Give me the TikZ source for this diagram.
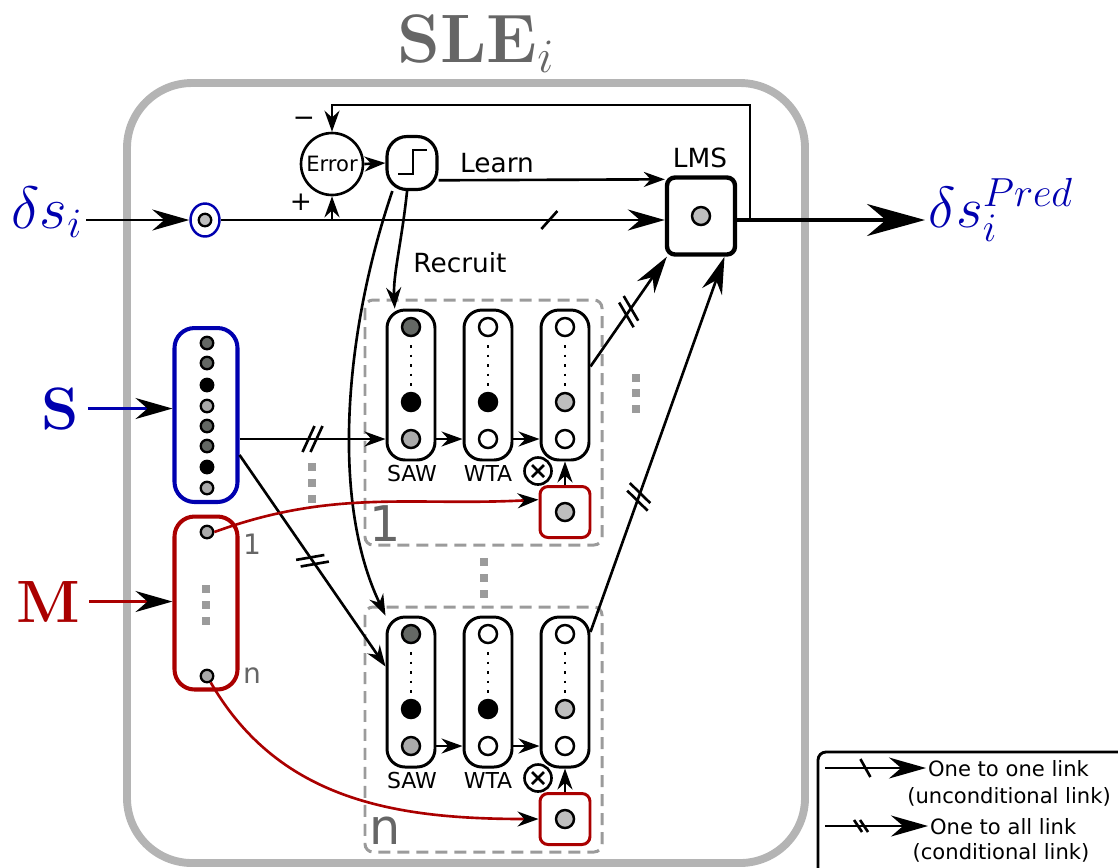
\RequirePackage{fix-cm}
\documentclass[tikz,border=0pt]{standalone}
\usepackage{fontspec}
\setsansfont{DejaVu Sans}
\usetikzlibrary{arrows.meta,shapes.geometric,decorations.markings}

\definecolor{sleblue}{RGB}{0,0,175}
\definecolor{slered}{RGB}{170,0,0}
\definecolor{titlegray}{RGB}{102,102,102}
\definecolor{framegray}{RGB}{180,180,180}
\definecolor{dashgray}{RGB}{155,155,155}
\definecolor{dotdark}{RGB}{100,104,100}
\definecolor{dotlight}{RGB}{170,170,170}
\definecolor{dotpale}{RGB}{190,190,190}

\begin{document}
\begin{tikzpicture}[x=0.02cm,y=-0.02cm,
  conn/.style={line width=1.5pt},
  sarrow/.style={-{Stealth[length=0.42cm,width=0.3cm,color=black]}},
  marrow/.style={-{Stealth[length=0.74cm,width=0.42cm,color=black]}},
  barrow/.style={-{Stealth[length=1.16cm,width=0.64cm,color=black]}},
  onelink/.style={postaction={decorate,decoration={markings,mark=at position #1 with {\draw[conn,-] (-8,9) -- (8,-9);}}}},
  alllink/.style={postaction={decorate,decoration={markings,mark=at position #1 with {\draw[conn,-] (-10,13) -- (2,-13); \draw[conn,-] (-2,13) -- (10,-13);}}}},
  legone/.style={postaction={decorate,decoration={markings,mark=at position #1 with {\draw[conn,-] (-5,-9) -- (5,9);}}}},
  legall/.style={postaction={decorate,decoration={markings,mark=at position #1 with {\draw[conn,-] (-7,-6) -- (1,6); \draw[conn,-] (-1,-6) -- (7,6);}}}},
  txt/.style={font=\sffamily\fontsize{15}{18}\selectfont, inner sep=1pt},
  small/.style={font=\sffamily\fontsize{12.5}{15}\selectfont, inner sep=1pt},
  legtxt/.style={font=\sffamily\fontsize{12}{14}\selectfont, inner sep=1pt},
  modlabel/.style={font=\sffamily\fontsize{28}{30}\selectfont, text=titlegray, inner sep=0pt},
  unitcol/.style={draw, line width=1.7pt, fill=white, rounded corners=0.36cm, minimum width=0.96cm, minimum height=3cm},
  unitdot/.style={circle, draw, line width=1.4pt, minimum size=0.36cm, inner sep=0pt},
  celldot/.style={circle, draw, line width=1.3pt, minimum size=0.25cm, inner sep=0pt},
  gatebox/.style={draw=slered, line width=1.7pt, rounded corners=0.16cm, minimum width=1cm, minimum height=1.02cm},
  modbox/.style={draw=dashgray, line width=1.7pt, dash pattern=on 0.24cm off 0.14cm, rounded corners=0.16cm},
  chain/.style={line width=1.6pt, dash pattern=on 0.05cm off 0.14cm}
]
\useasboundingbox (0,0) rectangle (1118,867);

\draw[framegray, line width=4.5pt, rounded corners=1.3cm] (127,83) rectangle (805,863);
\node[font=\bfseries\fontsize{39}{42}\selectfont, text=titlegray, anchor=base] (title) at (476,62) {SLE$_i$};

\foreach \m/\dy in {1/0,n/307}{
  \draw[modbox] (365,300+\dy) rectangle (602,545+\dy);
  \node[modlabel] (mlab\m) at (385,524+\dy) {\m};
  \node[unitcol] (saw\m) at (411,385+\dy) {};
  \node[unitcol] (wta\m) at (488,385+\dy) {};
  \node[unitcol] (out\m) at (565,385+\dy) {};
  \node[unitdot, fill=dotdark] (sawa\m) at (411,327+\dy) {};
  \node[unitdot, fill=black] (sawb\m) at (411,402+\dy) {};
  \node[unitdot, fill=dotlight] (sawc\m) at (411,439+\dy) {};
  \node[unitdot, fill=white] (wtaa\m) at (488,327+\dy) {};
  \node[unitdot, fill=black] (wtab\m) at (488,402+\dy) {};
  \node[unitdot, fill=white] (wtac\m) at (488,439+\dy) {};
  \node[unitdot, fill=white] (outa\m) at (565,327+\dy) {};
  \node[unitdot, fill=dotpale] (outb\m) at (565,402+\dy) {};
  \node[unitdot, fill=white] (outc\m) at (565,439+\dy) {};
  \foreach \x in {411,488,565}
    \draw[chain] (\x,345+\dy) -- (\x,386+\dy);
  \draw[conn,sarrow] (saw\m.east |- sawc\m) -- (wta\m.west |- sawc\m);
  \draw[conn,sarrow] (wta\m.east |- wtac\m) -- (out\m.west |- wtac\m);
  \node[small] (sawl\m) at (412,473+\dy) {SAW};
  \node[small] (wtal\m) at (488,473+\dy) {WTA};
  \node[circle, draw, conn, minimum size=0.54cm, inner sep=0pt] (ox\m) at (538,471+\dy) {};
  \draw[conn] ([shift={(-6,-6)}]ox\m.center) -- ([shift={(6,6)}]ox\m.center);
  \draw[conn] ([shift={(-6,6)}]ox\m.center) -- ([shift={(6,-6)}]ox\m.center);
  \node[gatebox] (g\m) at (565,512+\dy) {};
  \node[unitdot, fill=dotpale] (gd\m) at (g\m) {};
  \draw[conn,sarrow] (g\m.north) -- (out\m.south);
}

\foreach \x/\y in {312/467,312/483,312/499,206/589,206/605,206/621,484/562,484/578,484/594,636/378,636/393,636/409}
  \fill[dashgray] (\x-4,\y-4) rectangle (\x+4,\y+4);

\node[draw=sleblue, line width=2.3pt, rounded corners=0.4cm, minimum width=1.26cm, minimum height=3.48cm] (s) at (206,415) {};
\foreach \y/\col [count=\k] in {343/dotdark,363/dotdark,385/black,406/dotlight,426/dotdark,446/dotdark,467/black,488/dotlight}
  \node[celldot, fill=\col] (s\k) at (207,\y) {};
\node[draw=slered, line width=2.3pt, rounded corners=0.4cm, minimum width=1.26cm, minimum height=3.46cm] (m) at (206,603) {};
\node[celldot, fill=dotlight] (m1) at (207,532) {};
\node[celldot, fill=dotlight] (mn) at (207,676) {};
\node[font=\sffamily\fontsize{16}{18}\selectfont, text=titlegray] (m1l) at (252,544) {1};
\node[font=\sffamily\fontsize{16}{18}\selectfont, text=titlegray] (mnl) at (252,676) {n};

\node[text=sleblue, font=\bfseries\fontsize{34}{36}\selectfont, anchor=base, inner sep=5pt] (slab) at (60,429) {S};
\node[text=slered, font=\bfseries\fontsize{34}{36}\selectfont, anchor=base, inner sep=5pt] (mlab) at (48,622) {M};
\draw[sleblue,conn,marrow] (slab.east) -- (s.west |- slab.east);
\draw[slered,conn,marrow] (mlab.east) -- (m.west |- mlab.east);

\node[text=sleblue, font=\fontsize{34}{36}\selectfont, inner sep=2pt] (dsin) at (47,212) {$\delta s_i$};
\node[ellipse, draw=sleblue, line width=1.4pt, minimum width=0.58cm, minimum height=0.66cm, inner sep=0pt] (in) at (205,220) {};
\node[celldot, fill=dotpale] (ind) at (in) {};

\node[circle, draw, conn, minimum size=1.24cm, inner sep=0pt, font=\sffamily\fontsize{12}{14}\selectfont] (err) at (332,164) {Error};
\node[txt] (plus) at (301,202) {+};
\node[txt] (minus) at (304,122) {−};
\node[draw, line width=1.8pt, rounded corners=0.4cm, minimum width=1cm, minimum height=1.06cm] (step) at (412,163) {};
\draw[line width=1.6pt] ([shift={(-14,11)}]step.center) -- ++(15,0) -- ++(0,-24) -- ++(14,0);
\node[draw, line width=2.5pt, rounded corners=0.16cm, minimum width=1.36cm, minimum height=1.54cm] (lms) at (701,216) {};
\node[unitdot, fill=dotpale] (lmsd) at (lms) {};
\node[txt] (lmsl) at (700,158) {LMS};
\node[txt] (learn) at (497,163) {Learn};
\node[txt] (recruit) at (460,263) {Recruit};
\node[text=sleblue, font=\fontsize{33}{36}\selectfont, anchor=west, inner sep=2pt] (dsout) at (925,210) {$\delta s_i^{Pred}$};

\draw[conn,marrow] (dsin.east |- in) -- (in.west);
\draw[conn,marrow,onelink=0.74] (in.east) -- (lms.west |- in);
\draw[conn,sarrow] (err.south |- in) -- (err.south);
\draw[conn,sarrow] (err.east) -- (step.west);
\draw[conn,sarrow] (step.-33) -- ([yshift=-0.08cm]lms.north west);
\coordinate (fb) at (750,220);
\draw[conn,sarrow] (fb) -- ++(0,-115) -| (err.north);
\draw[line width=1.9pt,barrow] (lms.east |- in) -- (dsout.west |- in);

\draw[conn,sarrow] (step.-100) .. controls (402,240) and (393,275) .. (saw1.102);
\draw[conn,sarrow] (step.-125) .. controls (345,330) and (330,500) .. (sawn.north west);

\draw[conn,sarrow,alllink=0.5] (s.east |- sawc1) -- (saw1.west |- sawc1);
\draw[conn,sarrow,alllink=0.5] (s.-50) -- (sawn.135);
\draw[slered,conn,sarrow] (m1.east) to[out=20,in=183] (g1.155);
\draw[slered,conn,sarrow] (mn.-60) to[out=-60,in=180] (gn.west);
\draw[conn,marrow,alllink=0.5] (out1.36) -- (lms.-130);
\draw[conn,marrow,alllink=0.36] (outn.67) -- (lms.-60);

\draw[line width=1.6pt, rounded corners=0.16cm] (1130,752) -- (818,752) -- (818,880);
\node[legtxt, anchor=west] (one) at (926,769) {One to one link};
\node[legtxt] (onesub) at (1009,797) {(unconditional link)};
\node[legtxt, anchor=west] (all) at (928,827) {One to all link};
\node[legtxt] (allsub) at (1001,853) {(conditional link)};
\coordinate (onestart) at (825,768);
\coordinate (allstart) at (825,826);
\draw[conn,marrow,legone=0.4] (onestart) -- (one.west |- onestart);
\draw[conn,marrow,legall=0.35] (allstart) -- (all.west |- allstart);

\end{tikzpicture}
\end{document}
